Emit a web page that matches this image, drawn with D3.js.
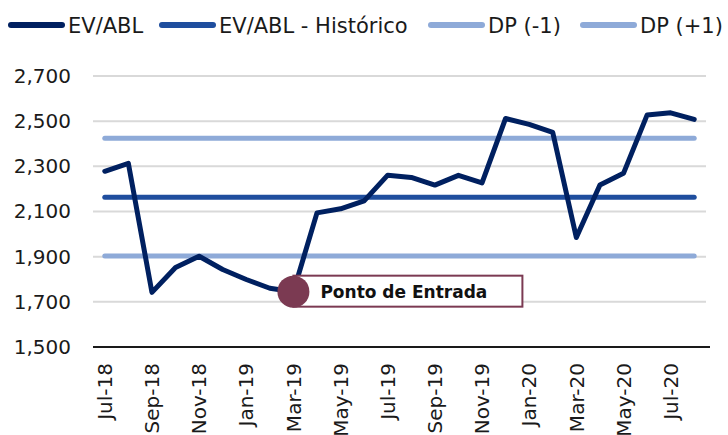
<!DOCTYPE html>
<html>
<head>
<meta charset="utf-8">
<script src="https://cdn.jsdelivr.net/npm/d3@7"></script>
<style>
  body { margin: 0; background: #fff; }
  svg { display: block; }
  .grid line { stroke: #d9d9d9; stroke-width: 2; }
  .axis text { font-family: "DejaVu Sans", Verdana, sans-serif; font-size: 20px; fill: #1a1a1a; }
  .legend text { font-family: "DejaVu Sans", Verdana, sans-serif; font-size: 21px; fill: #1a1a1a; }
</style>
</head>
<body>
<svg id="chart" width="728" height="435"></svg>
<script>
const months = ["Jul-18","Aug-18","Sep-18","Oct-18","Nov-18","Dec-18","Jan-19","Feb-19","Mar-19",
  "Apr-19","May-19","Jun-19","Jul-19","Aug-19","Sep-19","Oct-19","Nov-19","Dec-19",
  "Jan-20","Feb-20","Mar-20","Apr-20","May-20","Jun-20","Jul-20","Aug-20"];
const evAbl = [2278,2313,1742,1852,1902,1843,1799,1760,1745,2094,2112,2147,2261,2251,2217,2260,2227,
  2512,2486,2450,1985,2217,2269,2527,2537,2508];
const historico = 2163;
const dpMinus = 1903;
const dpPlus = 2424;
const xTickLabels = ["Jul-18","Sep-18","Nov-18","Jan-19","Mar-19","May-19","Jul-19","Sep-19","Nov-19","Jan-20","Mar-20","May-20","Jul-20"];
const yTicks = [1500,1700,1900,2100,2300,2500,2700];
const entryMonth = "Mar-19";
const entryLabel = "Ponto de Entrada";

const c = { ev: "#002060", hist: "#1f4e9e", dp: "#8eaad8", mark: "#7b3a52" };
const plotLeft = 93, plotRight = 706, plotTop = 76, plotBottom = 347;

const svg = d3.select("#chart");

const x = d3.scaleBand().domain(months).range([plotLeft, plotRight]);
const cx = d => x(d) + x.bandwidth() / 2;
const y = d3.scaleLinear().domain([1500, 2700]).range([plotBottom, plotTop]);

// gridlines
svg.append("g").attr("class", "grid")
  .selectAll("line").data(yTicks.slice(1)).enter().append("line")
  .attr("x1", plotLeft).attr("x2", plotRight)
  .attr("y1", d => y(d)).attr("y2", d => y(d));

// y axis labels
const yAxis = svg.append("g").attr("class", "axis")
  .attr("transform", "translate(" + plotLeft + ",0)")
  .call(d3.axisLeft(y).tickValues(yTicks).tickSize(0).tickPadding(22).tickFormat(d3.format(",")));
yAxis.select(".domain").remove();

// x axis
const xAxis = svg.append("g").attr("class", "axis")
  .attr("transform", "translate(0," + plotBottom + ")")
  .call(d3.axisBottom(x).tickValues(xTickLabels).tickSize(0));
xAxis.select(".domain").attr("stroke", "#1a1a1a").attr("stroke-width", 2)
  .attr("d", "M" + plotLeft + ",0H" + (plotRight + 4));
xAxis.selectAll("text")
  .attr("transform", "rotate(-90)")
  .attr("x", -16).attr("y", 0).attr("dy", "0.36em")
  .style("text-anchor", "end");

// reference lines
const refs = [{ v: dpPlus, col: c.dp }, { v: dpMinus, col: c.dp }, { v: historico, col: c.hist }];
svg.append("g").selectAll("line").data(refs).enter().append("line")
  .attr("x1", cx(months[0])).attr("x2", cx(months[months.length - 1]))
  .attr("y1", d => y(d.v)).attr("y2", d => y(d.v))
  .attr("stroke", d => d.col).attr("stroke-width", 5).attr("stroke-linecap", "round");

// main series
const line = d3.line().x((d, i) => cx(months[i])).y(d => y(d));
svg.append("path").datum(evAbl)
  .attr("d", line)
  .attr("fill", "none").attr("stroke", c.ev).attr("stroke-width", 5)
  .attr("stroke-linejoin", "round").attr("stroke-linecap", "round");

// annotation
const ei = months.indexOf(entryMonth);
const ex = cx(entryMonth), ey = y(evAbl[ei]);
svg.append("rect")
  .attr("x", ex).attr("y", ey - 16).attr("width", 229).attr("height", 31)
  .attr("fill", "#fff").attr("stroke", c.mark).attr("stroke-width", 2);
svg.append("circle").attr("cx", ex).attr("cy", ey).attr("r", 16).attr("fill", c.mark);
svg.append("text")
  .attr("x", ex + 27).attr("y", ey).attr("dy", "0.36em")
  .style("font-family", "'DejaVu Sans', Verdana, sans-serif")
  .style("font-size", "17px").style("font-weight", "bold").style("fill", "#111")
  .text(entryLabel);

// legend
const legendItems = [
  { name: "EV/ABL", col: c.ev, x: 8 },
  { name: "EV/ABL - Histórico", col: c.hist, x: 159 },
  { name: "DP (-1)", col: c.dp, x: 428 },
  { name: "DP (+1)", col: c.dp, x: 580 }
];
const lg = svg.append("g").attr("class", "legend")
  .selectAll("g").data(legendItems).enter().append("g")
  .attr("transform", d => "translate(" + d.x + ",25)");
lg.append("line").attr("x1", 3).attr("x2", 54)
  .attr("stroke", d => d.col).attr("stroke-width", 6).attr("stroke-linecap", "round");
lg.append("text").attr("x", 60).attr("dy", "0.36em").text(d => d.name);
</script>
</body>
</html>
